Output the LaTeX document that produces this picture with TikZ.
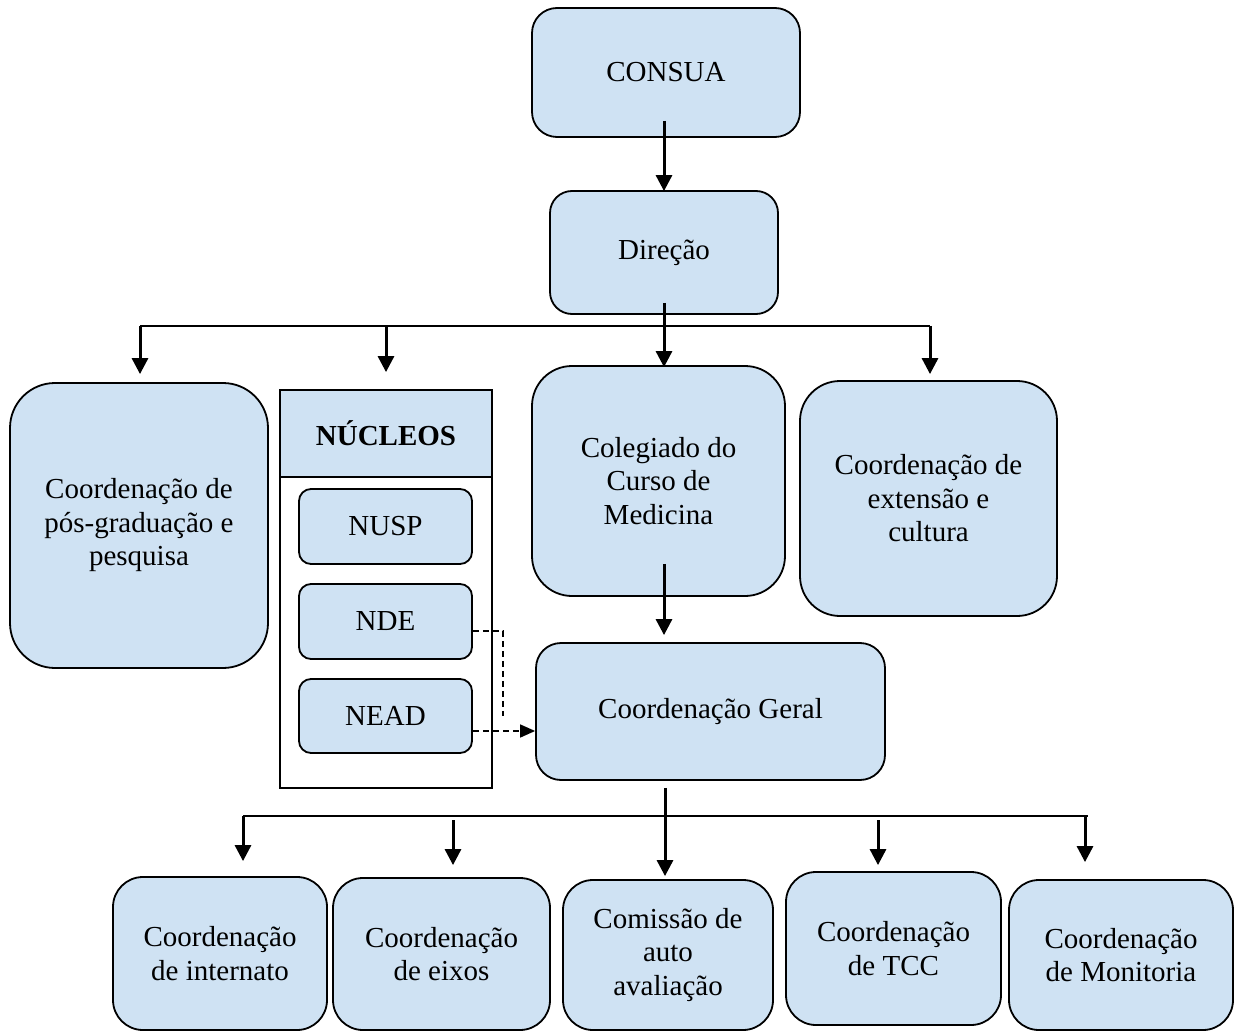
\documentclass[tikz,border=0pt]{standalone}
\usepackage{fontspec}
\setmainfont{Liberation Serif}
\usetikzlibrary{arrows.meta,calc}
\definecolor{boxblue}{HTML}{CFE2F3}
\begin{document}
\begin{tikzpicture}[x=1pt,y=-1pt,
  box/.style={draw=black,line width=1.8pt,fill=boxblue,align=center,inner sep=0pt,
    font=\fontsize{29}{33.5}\selectfont},
  sqbox/.style={draw=black,line width=1.8pt,align=center,inner sep=0pt},
  conn/.style={line width=3pt,-{Triangle[width=16pt,length=16pt]}},
  hline/.style={line width=2pt},
  dconn/.style={line width=1.6pt,dash pattern=on 6pt off 4pt},
  darrow/.style={line width=1.6pt,dash pattern=on 6pt off 4pt,-{Triangle[width=13pt,length=15pt]}}
]
\useasboundingbox (0,0) rectangle (1237,1032);
% top
\node[box,rounded corners=25pt,minimum width=268pt,minimum height=129pt] (consua) at (666,72.5) {CONSUA};
\node[box,rounded corners=22pt,minimum width=228pt,minimum height=123pt] (direcao) at (664,252.5) {Direção};
% second level
\node[box,rounded corners=45pt,minimum width=258pt,minimum height=285pt] (pos) at (139,525.5) {Coordenação de\\pós-graduação e\\pesquisa};
\node[sqbox,minimum width=212pt,minimum height=398pt] (nucleos) at (386,589) {};
\node[sqbox,fill=boxblue,minimum width=212pt,minimum height=87pt,font=\fontsize{29}{33}\selectfont\bfseries] (nhead) at (386,433.5) {NÚCLEOS};
\node[box,rounded corners=12pt,minimum width=173pt,minimum height=75pt] (nusp) at (385.5,526.5) {NUSP};
\node[box,rounded corners=12pt,minimum width=173pt,minimum height=75pt] (nde) at (385.5,621.5) {NDE};
\node[box,rounded corners=12pt,minimum width=173pt,minimum height=74pt] (nead) at (385.5,716) {NEAD};
\node[box,rounded corners=40pt,minimum width=253pt,minimum height=230pt] (coleg) at (658.5,481) {Colegiado do\\Curso de\\Medicina};
\node[box,rounded corners=40pt,minimum width=257pt,minimum height=235pt] (ext) at (928.5,498.5) {Coordenação de\\extensão e\\cultura};
\node[box,rounded corners=25pt,minimum width=349pt,minimum height=137pt] (geral) at (710.5,711.5) {Coordenação Geral};
% bottom
\node[box,rounded corners=30pt,minimum width=214pt,minimum height=153pt] (intern) at (220,953.5) {Coordenação\\de internato};
\node[box,rounded corners=30pt,minimum width=217pt,minimum height=152pt] (eixos) at (441.5,954) {Coordenação\\de eixos};
\node[box,rounded corners=30pt,minimum width=210pt,minimum height=150pt] (comis) at (668,955) {Comissão de\\auto\\avaliação};
\node[box,rounded corners=30pt,minimum width=215pt,minimum height=153pt] (tcc) at (893.5,948.5) {Coordenação\\de TCC};
\node[box,rounded corners=30pt,minimum width=224pt,minimum height=150pt] (monit) at (1121,955) {Coordenação\\de Monitoria};
% connectors top
\coordinate (h1l) at (140,326);
\coordinate (h1r) at (930,326);
\draw[hline] (h1l) -- (h1r);
\draw[conn] ([yshift=17pt]consua.south -| 664,0) -- ([yshift=-1pt]direcao.north -| 664,0);
\draw[conn] ([yshift=12pt]direcao.south -| 664,0) -- ([yshift=-2pt]coleg.north -| 664,0);
\draw[conn] (h1l) -- ([yshift=8pt]pos.north -| h1l);
\draw[conn] (h1l -| nucleos.north) -- ([yshift=17pt]nucleos.north);
\draw[conn] (h1r) -- ([yshift=6pt]ext.north -| h1r);
\draw[conn] ([yshift=33pt]coleg.south -| 664,0) -- ([yshift=7pt]geral.north -| 664,0);
% dashed from nucleos
\coordinate (dj) at (503,631);
\draw[dconn] (nde.east |- dj) -- (dj) -- (dj |- nead.east);
\draw[darrow] ([yshift=-15pt]nead.east) -- ([yshift=-19.5pt]geral.west);
% bottom connectors
\coordinate (h2l) at (243,816);
\coordinate (h2r) at (1088,816);
\draw[hline] (h2l) -- (h2r);
\draw[conn] ([yshift=-7pt]geral.south -| 665,0) -- ([yshift=3pt]comis.north -| 665,0);
\draw[conn] (h2l) -- ([yshift=15pt]intern.north -| h2l);
\draw[conn] (453,820) -- ([yshift=12pt]eixos.north -| 453,0);
\draw[conn] (878,820) -- ([yshift=6pt]tcc.north -| 878,0);
\draw[conn] (1085,816) -- ([yshift=17pt]monit.north -| 1085,0);
\end{tikzpicture}
\end{document}
